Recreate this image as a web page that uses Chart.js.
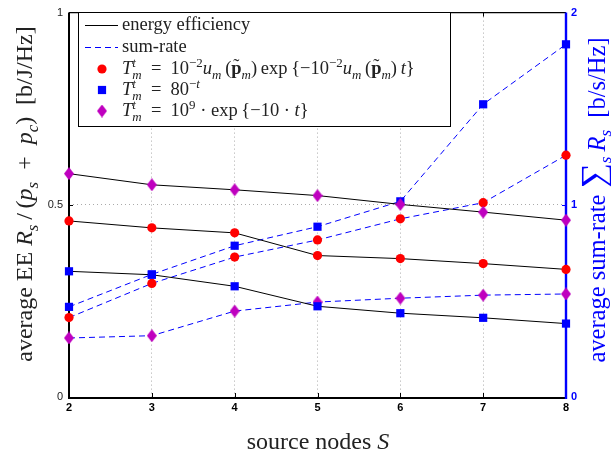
<!DOCTYPE html>
<html lang="en">
<head>
<meta charset="UTF-8">
<title>Energy efficiency and sum-rate vs. source nodes</title>
<script src="https://cdn.jsdelivr.net/npm/chart.js"></script>
<style>
  html, body { margin: 0; padding: 0; background: #fff; }
  #wrap { width: 611px; height: 458px; }
</style>
</head>
<body>
<div id="wrap"><canvas id="eeChart" width="611" height="458"></canvas></div>
<script>
// number of source nodes S
const sourceNodes = [2, 3, 4, 5, 6, 7, 8];

// average energy efficiency [b/J/Hz], left axis
const eeUtilityExp = [0.458, 0.440, 0.427, 0.368, 0.360, 0.347, 0.332];
const eePow80 = [0.327, 0.318, 0.288, 0.236, 0.218, 0.206, 0.191];
const eeExp10 = [0.581, 0.552, 0.539, 0.524, 0.501, 0.481, 0.460];

// average sum-rate [b/s/Hz], right axis
const srUtilityExp = [0.413, 0.591, 0.728, 0.817, 0.927, 1.011, 1.258];
const srPow80 = [0.469, 0.638, 0.787, 0.886, 1.018, 1.523, 1.835];
const srExp10 = [0.307, 0.319, 0.447, 0.494, 0.514, 0.530, 0.536];

const eeTicks = [0, 0.5, 1];
const srTicks = [0, 1, 2];

const RED = '#ff0000', BLUE = '#0000ff', MAGENTA = '#bf00bf';
const SERIF = '"Liberation Serif", "DejaVu Serif", serif';
const SANS = '"Liberation Sans", Arial, sans-serif';

// tall diamond marker (matlab style 'd')
function makeDiamond(w, h, color) {
  const c = document.createElement('canvas');
  c.width = w; c.height = h;
  const g = c.getContext('2d');
  g.fillStyle = color;
  g.beginPath();
  g.moveTo(w / 2, 0); g.lineTo(w, h / 2); g.lineTo(w / 2, h); g.lineTo(0, h / 2);
  g.closePath(); g.fill();
  return c;
}
const diamond = makeDiamond(10, 13, MAGENTA);

function pts(ys) { return sourceNodes.map((x, i) => ({ x: x, y: ys[i] })); }

const marker = {
  circle: { pointStyle: 'circle', pointRadius: 4.6, color: RED },
  square: { pointStyle: 'rect', pointRadius: 5.8, color: BLUE },
  diamond: { pointStyle: diamond, pointRadius: 6, color: MAGENTA }
};

function series(ys, m, axis) {
  const sr = axis === 'y1';
  return {
    data: pts(ys),
    yAxisID: axis,
    borderColor: sr ? BLUE : '#000',
    borderWidth: 1,
    borderDash: sr ? [6, 4] : [],
    pointStyle: m.pointStyle,
    pointRadius: m.pointRadius,
    pointBackgroundColor: m.color,
    pointBorderColor: m.color,
    pointBorderWidth: 0,
    tension: 0,
    clip: false
  };
}

// --- simple rich text: [text, style, pos, scale]; style r/i/b,
// pos '' | '^' | '_' | '^_' (stacked [sup, sub]) | '~' (tilde accent on top)
function fontFor(f, size) {
  return (f === 'i' ? 'italic ' : '') + (f === 'b' ? 'bold ' : '') + size + 'px ' + SERIF;
}
function richText(ctx, parts, size, x, y, draw) {
  let cx = x;
  const small = size * 0.7;
  for (const [t, f, pos, k] of parts) {
    if (pos === '^_') {
      ctx.font = fontFor(f, small);
      const w = Math.max(ctx.measureText(t[0]).width, ctx.measureText(t[1]).width);
      if (draw) {
        ctx.fillText(t[0], cx, y - size * 0.4);
        ctx.fillText(t[1], cx, y + size * 0.25);
      }
      cx += w;
    } else if (pos === '~') {
      ctx.font = fontFor(f, size);
      const w = ctx.measureText(t).width;
      if (draw) {
        ctx.fillText(t, cx, y);
        ctx.font = fontFor('r', size);
        const tw = ctx.measureText('˜').width;
        ctx.fillText('˜', cx + (w - tw) / 2, y - size * 0.1);
      }
      cx += w;
    } else {
      const sz = pos ? small : size * (k || 1);
      ctx.font = fontFor(f, sz);
      const dy = pos === '^' ? -size * 0.4 : pos === '_' ? size * 0.25 : 0;
      if (draw) ctx.fillText(t, cx, y + dy);
      cx += ctx.measureText(t).width;
    }
  }
  return cx - x;
}
function drawRichCentered(ctx, parts, size, x, y) {
  const w = richText(ctx, parts, size, 0, 0, false);
  richText(ctx, parts, size, x - w / 2, y, true);
}

const EN = '\u2002', TH = '\u2009';
const legendRows = [
  { line: 'solid', parts: [['energy efficiency', 'r', '']] },
  { line: 'dash', parts: [['sum-rate', 'r', '']] },
  { mark: 'circle', parts: [['T', 'i', ''], [['t', 'm'], 'i', '^_'], [EN + '=' + EN + '10', 'r', ''], ['−2', 'r', '^'],
      ['u', 'i', ''], ['m', 'i', '_'], [TH + '(', 'r', ''], ['p', 'b', '~'], ['m', 'i', '_'], [')' + TH + 'exp' + TH + '{−10', 'r', ''],
      ['−2', 'r', '^'], ['u', 'i', ''], ['m', 'i', '_'], [TH + '(', 'r', ''], ['p', 'b', '~'], ['m', 'i', '_'],
      [')' + TH, 'r', ''], ['t', 'i', ''], ['}', 'r', '']] },
  { mark: 'square', parts: [['T', 'i', ''], [['t', 'm'], 'i', '^_'], [EN + '=' + EN + '80', 'r', ''], ['−', 'r', '^'], ['t', 'i', '^']] },
  { mark: 'diamond', parts: [['T', 'i', ''], [['t', 'm'], 'i', '^_'], [EN + '=' + EN + '10', 'r', ''], ['9', 'r', '^'],
      [' · exp' + TH + '{−10 · ', 'r', ''], ['t', 'i', ''], ['}', 'r', '']] }
];

function drawMarker(ctx, kind, x, y) {
  if (kind === 'circle') {
    ctx.fillStyle = RED;
    ctx.beginPath(); ctx.arc(x, y, 4.6, 0, Math.PI * 2); ctx.fill();
  } else if (kind === 'square') {
    ctx.fillStyle = BLUE;
    ctx.fillRect(x - 4.1, y - 4.1, 8.2, 8.2);
  } else {
    ctx.drawImage(diamond, x - diamond.width / 2, y - diamond.height / 2);
  }
}

// axis frame, inward ticks, titles and legend
const framePlugin = {
  id: 'frame',
  beforeDatasetsDraw(chart) {
    const { ctx, chartArea: a, scales } = chart;
    ctx.save();
    ctx.strokeStyle = '#000';
    ctx.lineWidth = 1.2;
    ctx.beginPath(); ctx.moveTo(a.left, a.top); ctx.lineTo(a.right, a.top); ctx.stroke();
    ctx.lineWidth = 1;
    ctx.beginPath();
    for (let v = 3; v <= 7; v++) {
      const px = Math.round(scales.x.getPixelForValue(v)) + 0.5;
      ctx.moveTo(px, a.bottom); ctx.lineTo(px, a.bottom - 4);
      ctx.moveTo(px, a.top); ctx.lineTo(px, a.top + 4);
    }
    const py = Math.round(scales.y.getPixelForValue(0.5)) + 0.5;
    ctx.moveTo(a.left, py); ctx.lineTo(a.left + 4, py);
    ctx.stroke();
    ctx.strokeStyle = BLUE;
    ctx.beginPath(); ctx.moveTo(a.right, py); ctx.lineTo(a.right - 4, py); ctx.stroke();
    ctx.lineWidth = 2;
    ctx.strokeStyle = '#000';
    ctx.beginPath();
    ctx.moveTo(a.left, a.top); ctx.lineTo(a.left, a.bottom + 1); ctx.lineTo(a.right, a.bottom + 1);
    ctx.stroke();
    ctx.strokeStyle = BLUE;
    ctx.lineWidth = 2.4;
    ctx.beginPath(); ctx.moveTo(a.right, a.top); ctx.lineTo(a.right, a.bottom + 2); ctx.stroke();
    ctx.restore();
  },
  afterDraw(chart) {
    const { ctx } = chart;
    ctx.save();
    ctx.textBaseline = 'alphabetic';

    // axis titles
    ctx.fillStyle = '#222';
    drawRichCentered(ctx, [['source nodes ', 'r', ''], ['S', 'i', '']], 24, 318, 449);

    ctx.save();
    ctx.translate(32, 194); ctx.rotate(-Math.PI / 2);
    drawRichCentered(ctx, [['average EE ', 'r', ''], ['R', 'i', ''], ['s', 'i', '_'], [TH + '/' + TH + '(', 'r', ''],
      ['p', 'i', ''], ['s', 'i', '_'], [EN + '+' + EN, 'r', ''], ['p', 'i', ''], ['c', 'i', '_'], [')' + EN + '[b/J/Hz]', 'r', '']], 24, 0, 0);
    ctx.restore();

    ctx.save();
    ctx.fillStyle = BLUE;
    ctx.translate(605, 200); ctx.rotate(-Math.PI / 2);
    drawRichCentered(ctx, [['average sum-rate ', 'r', ''], ['∑', 'r', '', 1.45], ['s', 'i', '_'], [TH + 'R', 'i', ''],
      ['s', 'i', '_'], [EN + '[b/s/Hz]', 'r', '']], 24.5, 0, 0);
    ctx.restore();

    // legend box
    const bx = 78, by = 12, bw = 372, bh = 114;
    ctx.fillStyle = '#fff';
    ctx.fillRect(bx, by, bw, bh);
    ctx.strokeStyle = '#000';
    ctx.lineWidth = 1;
    ctx.strokeRect(bx + 0.5, by + 0.5, bw, bh);
    const rowY = [25, 47, 69, 90, 111];
    legendRows.forEach((row, i) => {
      const cy = rowY[i];
      if (row.line) {
        ctx.strokeStyle = row.line === 'dash' ? BLUE : '#000';
        ctx.setLineDash(row.line === 'dash' ? [6, 4] : []);
        ctx.beginPath(); ctx.moveTo(85, cy + 0.5); ctx.lineTo(118, cy + 0.5); ctx.stroke();
        ctx.setLineDash([]);
      } else {
        drawMarker(ctx, row.mark, 102, cy);
      }
      ctx.fillStyle = '#222';
      richText(ctx, row.parts, 18.5, 122, cy + 5, true);
    });
    ctx.restore();
  }
};

const gridDash = { display: false, dash: [1, 3] };

new Chart(document.getElementById('eeChart'), {
  type: 'line',
  data: {
    datasets: [
      series(eeUtilityExp, marker.circle, 'y'),
      series(eePow80, marker.square, 'y'),
      series(eeExp10, marker.diamond, 'y'),
      series(srUtilityExp, marker.circle, 'y1'),
      series(srPow80, marker.square, 'y1'),
      series(srExp10, marker.diamond, 'y1')
    ]
  },
  options: {
    responsive: false,
    animation: false,
    devicePixelRatio: 1,
    layout: { padding: { top: 8, left: 0, right: 0, bottom: 0 } },
    plugins: { legend: { display: false }, tooltip: { enabled: false } },
    scales: {
      x: {
        type: 'linear', min: 2, max: 8,
        ticks: { stepSize: 1, color: '#000', padding: 4, font: { family: SANS, weight: 'bold', size: 11 } },
        grid: {
          drawTicks: false, lineWidth: 1,
          color: c => (c.tick && c.tick.value > 2 && c.tick.value < 8) ? '#aaaaaa' : 'transparent'
        },
        border: gridDash,
        afterFit: s => { s.height = 61; }
      },
      y: {
        position: 'left', min: 0, max: 1,
        afterBuildTicks: s => { s.ticks = eeTicks.map(v => ({ value: v })); },
        ticks: { color: '#222', padding: 6, font: { family: SANS, size: 11 }, callback: v => String(v) },
        grid: {
          drawTicks: false, lineWidth: 1,
          color: c => (c.tick && c.tick.value === 0.5) ? '#aaaaaa' : 'transparent'
        },
        border: gridDash,
        afterFit: s => { s.width = 69; }
      },
      y1: {
        position: 'right', min: 0, max: 2,
        afterBuildTicks: s => { s.ticks = srTicks.map(v => ({ value: v })); },
        ticks: { color: BLUE, padding: 5, font: { family: SANS, weight: 'bold', size: 11 }, callback: v => String(v) },
        grid: { display: false, drawTicks: false },
        border: { display: false },
        afterFit: s => { s.width = 45; }
      }
    }
  },
  plugins: [framePlugin]
});
</script>
</body>
</html>
